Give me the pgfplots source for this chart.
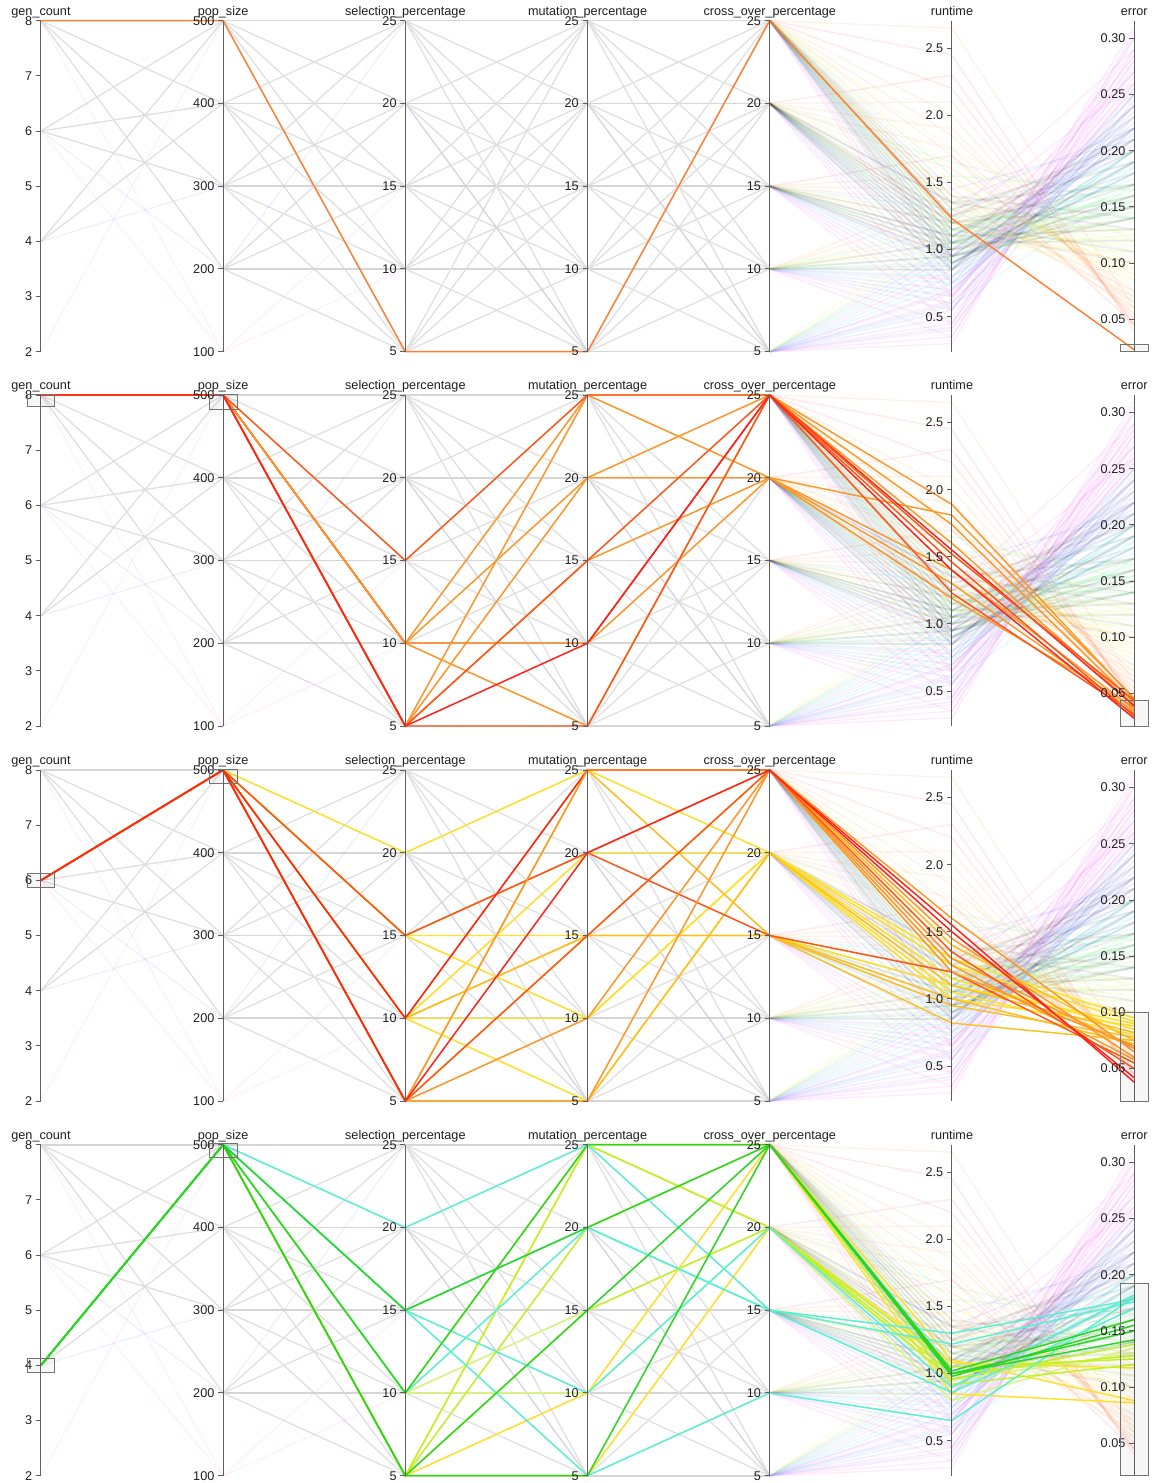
\documentclass[border=0pt]{standalone}
\usepackage{pgfplots}
\usepackage{pgfplotstable}
\pgfplotsset{compat=1.18}
\usepackage{fontspec}
\setmainfont{Liberation Sans}

\definecolor{cpk}{RGB}{245,110,245}
\definecolor{cbl}{RGB}{120,130,255}
\definecolor{ccy}{RGB}{70,215,250}
\definecolor{cgr}{RGB}{90,240,110}
\definecolor{cyg}{RGB}{200,245,70}
\definecolor{cye}{RGB}{255,225,70}
\definecolor{cor}{RGB}{255,160,80}
\definecolor{crd}{RGB}{255,90,90}
\definecolor{gridgray}{RGB}{224,224,224}
\definecolor{gridgrayd}{RGB}{214,214,214}
\definecolor{axgray}{RGB}{95,95,95}
\definecolor{hOne}{RGB}{255,128,50}
\definecolor{hRed}{RGB}{255,35,25}
\definecolor{hOrRed}{RGB}{255,85,25}
\definecolor{hOr}{RGB}{255,150,40}
\definecolor{hYo}{RGB}{255,190,30}
\definecolor{hYe}{RGB}{255,225,40}
\definecolor{hGreen}{RGB}{40,215,30}
\definecolor{hCyan}{RGB}{90,240,210}
\definecolor{hYg}{RGB}{195,240,40}
\definecolor{hLyg}{RGB}{215,245,120}

\tikzset{brush/.style={draw=black!55, line width=0.75pt, fill=black, fill opacity=0.03}}

\pgfplotsset{
  sgy/.style={color=gridgray, line width=1pt, mark=none},
  sgh/.style={color=gridgrayd, line width=1.2pt, mark=none},
  spk/.style={color=cpk, opacity=0.12, line width=0.8pt, mark=none},
  sbl/.style={color=cbl, opacity=0.14, line width=0.8pt, mark=none},
  rline/.style={opacity=0.13, line width=1.1pt, mark=none},
  rpk/.style={rline, color=cpk},
  rbl/.style={rline, color=cbl},
  rcy/.style={rline, color=ccy},
  rgr/.style={rline, color=cgr},
  ryg/.style={rline, color=cyg},
  rye/.style={rline, color=cye},
  ror/.style={rline, color=cor},
  rrd/.style={rline, color=crd},
  rgy/.style={mark=none, color=black, opacity=0.065, line width=1.5pt},
  hl/.style={line width=1.1pt, mark=none},
  mainax/.style={scale only axis, width=819.9pt, height=248.25pt, anchor=south west,
    xmin=0, xmax=6, ymin=0, ymax=1, hide axis, clip=false},
  tickax/.style={scale only axis, width=0.1pt, height=248.25pt, anchor=south west,
    xmin=0, xmax=1, axis x line=none, axis y line*=left, clip=false,
    axis line style={draw=axgray, line width=0.75pt},
    ytick style={draw=axgray, line width=0.75pt},
    tick align=outside, major tick length=3.6pt, scaled y ticks=false,
    tick label style={font=\fontsize{9.5}{11}\selectfont, text=black!88},
    yticklabel style={/pgf/number format/assume math mode=true, xshift=0.6pt},
    title style={at={(0.5,1)}, anchor=base, yshift=-1.8pt, inner sep=0pt,
      font=\fontsize{9.5}{11}\selectfont, text=black!88}},
}

% ---------- discrete grid (background) ----------
\pgfplotstableread{
a b col
8 500 sgh
8 400 sgy
8 300 sgy
8 200 sgy
8 100 spk
6 500 sgy
6 400 sgy
6 300 sgy
6 200 sbl
6 100 spk
4 500 sgy
4 400 sgy
4 300 sbl
2 500 spk
}\gridGP

\pgfplotstableread{
a b col
500 25 sgh
500 20 sgy
500 15 sgy
500 10 sgy
500 5 sgy
400 25 sgy
400 20 sgh
400 15 sgy
400 10 sgy
400 5 sgy
300 25 sgy
300 20 sgy
300 15 sgh
300 10 sgy
300 5 sgy
200 25 sbl
200 20 sgy
200 15 sgy
200 10 sgh
200 5 sgy
100 15 spk
100 10 spk
}\gridPS

\pgfplotstableread{
a b col
25 25 sgh
25 20 sgy
25 15 sgy
25 10 sgy
25 5 sgy
20 25 sgy
20 20 sgh
20 15 sgy
20 10 sgy
20 5 sgy
15 25 sgy
15 20 sgy
15 15 sgh
15 10 sgy
15 5 sgy
10 25 sgy
10 20 sgy
10 15 sgy
10 10 sgh
10 5 sgy
5 25 sgy
5 20 sgy
5 15 sgy
5 10 sgy
5 5 sgh
20 5 sbl
}\gridSM

\pgfplotstableread{
a b col
25 25 sgh
25 20 sgy
25 15 sgy
25 10 sgy
25 5 sgy
20 25 sgy
20 20 sgh
20 15 sgy
20 10 sgy
20 5 sgy
15 25 sgy
15 20 sgy
15 15 sgh
15 10 sgy
15 5 sgy
10 25 sgy
10 20 sgy
10 15 sgy
10 10 sgh
10 5 sgy
5 25 sgy
5 20 sgy
5 15 sgy
5 10 sgy
5 5 sgh
20 5 sbl
}\gridMC

% ---------- continuous part (cross -> runtime -> error) ----------
\pgfplotstableread{
c r e col
5 0.30 0.305 rpk
5 0.35 0.290 rpk
5 0.40 0.275 rpk
5 0.45 0.260 rpk
5 0.50 0.250 rbl
5 0.55 0.240 rbl
5 0.60 0.230 rbl
5 0.62 0.285 rpk
5 0.70 0.220 rbl
5 0.75 0.200 rcy
5 0.80 0.190 rcy
5 0.85 0.270 rpk
5 0.90 0.180 rcy
5 0.95 0.160 rgr
5 1.00 0.215 rbl
5 1.05 0.140 rgr
5 1.10 0.120 ryg
5 0.42 0.245 rbl
5 0.58 0.170 rcy
5 0.68 0.255 rpk
5 1.20 0.100 rye
10 0.35 0.300 rpk
10 0.45 0.280 rpk
10 0.55 0.265 rpk
10 0.60 0.235 rbl
10 0.70 0.220 rbl
10 0.75 0.200 rcy
10 0.80 0.185 rcy
10 0.85 0.170 rgr
10 0.90 0.155 rgr
10 0.95 0.140 rgr
10 1.00 0.125 ryg
10 1.05 0.110 ryg
10 1.10 0.095 rye
10 1.20 0.085 rye
10 1.30 0.070 ror
10 0.65 0.250 rbl
10 0.78 0.290 rpk
10 0.88 0.210 rbl
10 1.15 0.160 rgr
10 1.40 0.060 ror
15 0.45 0.310 rpk
15 0.55 0.280 rpk
15 0.65 0.255 rpk
15 0.72 0.240 rbl
15 0.80 0.225 rbl
15 0.85 0.200 rcy
15 0.92 0.180 rcy
15 1.00 0.165 rgr
15 1.05 0.150 rgr
15 1.10 0.130 ryg
15 1.15 0.115 ryg
15 1.20 0.100 rye
15 1.25 0.090 rye
15 1.35 0.075 ror
15 1.45 0.065 ror
15 1.55 0.055 ror
15 1.70 0.045 rrd
15 0.95 0.270 rpk
15 1.30 0.190 rcy
15 1.10 0.205 rbl
20 0.55 0.300 rpk
20 0.65 0.270 rpk
20 0.75 0.250 rbl
20 0.85 0.230 rbl
20 0.95 0.210 rbl
20 1.00 0.190 rcy
20 1.05 0.175 rcy
20 1.10 0.160 rgr
20 1.15 0.145 rgr
20 1.20 0.130 ryg
20 1.25 0.120 ryg
20 1.30 0.105 ryg
20 1.40 0.095 rye
20 1.50 0.085 rye
20 1.60 0.075 ror
20 1.75 0.065 ror
20 1.90 0.055 ror
20 2.10 0.050 ror
20 2.30 0.045 rrd
20 1.35 0.220 rbl
20 1.20 0.260 rpk
20 1.65 0.150 rgr
25 0.65 0.285 rpk
25 0.75 0.260 rpk
25 0.85 0.240 rbl
25 0.95 0.220 rbl
25 1.05 0.200 rcy
25 1.10 0.185 rcy
25 1.15 0.170 rgr
25 1.20 0.155 rgr
25 1.25 0.140 rgr
25 1.30 0.125 ryg
25 1.35 0.110 ryg
25 1.40 0.100 rye
25 1.50 0.090 rye
25 1.60 0.080 rye
25 1.70 0.070 ror
25 1.85 0.060 ror
25 2.00 0.050 ror
25 2.20 0.045 rrd
25 2.45 0.040 rrd
25 2.65 0.060 ror
25 1.45 0.210 rbl
25 1.55 0.165 rgr
25 1.75 0.120 ryg
25 1.25 0.290 rpk
25 1.00 0.150 rgy
25 1.10 0.130 rgy
25 1.20 0.170 rgy
25 1.30 0.200 rgy
25 1.40 0.140 rgy
20 0.95 0.160 rgy
20 1.05 0.120 rgy
20 1.15 0.180 rgy
20 1.25 0.210 rgy
20 1.35 0.130 rgy
15 0.90 0.190 rgy
15 1.00 0.140 rgy
15 1.10 0.220 rgy
15 1.20 0.110 rgy
10 0.85 0.200 rgy
10 0.95 0.150 rgy
10 1.05 0.230 rgy
25 0.90 0.180 rgy
20 0.85 0.240 rgy
25 1.15 0.100 rgy
25 1.05 0.160 rgy
25 1.25 0.190 rgy
25 1.35 0.170 rgy
20 1.10 0.200 rgy
20 1.20 0.150 rgy
20 1.00 0.220 rgy
15 1.05 0.170 rgy
15 0.95 0.210 rgy
25 0.95 0.140 rgy
20 0.90 0.190 rgy
}\bgR

% ---------- highlighted (brushed) lines ----------
\pgfplotstableread{
g p s m c r e col
8 500 5 5 25 1.23 0.023 hOne
}\hlA

\pgfplotstableread{
g p s m c r e col
8 500 10 25 20 1.81 0.046 hOr
8 500 10 20 25 1.74 0.042 hOr
8 500 10 5 25 1.60 0.040 hOr
8 500 5 20 20 1.30 0.034 hOr
8 500 5 25 25 1.89 0.045 hOr
8 500 5 15 20 1.19 0.038 hOr
8 500 10 10 25 1.55 0.039 hRed
8 500 10 10 20 1.40 0.036 hOr
8 500 15 25 25 1.52 0.044 hOrRed
8 500 5 5 25 1.23 0.032 hOrRed
8 500 5 15 25 1.46 0.030 hOrRed
8 500 5 10 25 1.40 0.028 hRed
}\hlB

\pgfplotstableread{
g p s m c r e col
6 500 20 25 20 1.30 0.095 hYe
6 500 15 15 15 1.10 0.090 hYe
6 500 15 10 20 1.15 0.085 hYe
6 500 10 20 20 1.05 0.080 hYe
6 500 10 10 20 1.00 0.088 hYe
6 500 10 5 20 1.25 0.092 hYe
6 500 10 15 25 1.40 0.075 hYo
6 500 5 25 15 0.95 0.078 hYo
6 500 5 5 20 1.10 0.082 hYo
6 500 10 15 15 0.82 0.075 hYo
6 500 5 15 15 1.00 0.072 hYo
6 500 15 20 25 1.25 0.058 hOr
6 500 10 25 25 1.30 0.068 hOr
6 500 15 20 15 1.20 0.055 hOrRed
6 500 10 25 25 1.55 0.038 hRed
6 500 5 25 25 1.45 0.060 hOr
6 500 5 10 25 1.60 0.065 hOr
6 500 5 5 25 1.20 0.070 hOr
6 500 5 15 25 1.35 0.050 hOrRed
6 500 5 20 25 1.50 0.042 hRed
}\hlC

\pgfplotstableread{
g p s m c r e col
4 500 10 15 20 0.80 0.135 hLyg
4 500 10 10 20 0.95 0.130 hLyg
4 500 5 25 25 1.10 0.088 hYe
4 500 5 10 25 0.85 0.086 hYe
4 500 5 5 20 1.08 0.117 hYe
4 500 5 25 20 1.05 0.125 hYg
4 500 5 20 25 0.92 0.120 hYg
4 500 10 25 20 1.00 0.128 hYg
4 500 5 15 20 0.96 0.138 hYg
4 500 20 25 15 1.30 0.178 hCyan
4 500 15 10 20 0.90 0.182 hCyan
4 500 15 5 10 0.65 0.180 hCyan
4 500 10 20 15 1.22 0.176 hCyan
4 500 15 20 15 0.86 0.170 hCyan
4 500 10 25 25 0.98 0.155 hGreen
4 500 15 20 25 1.02 0.160 hGreen
4 500 5 15 25 1.00 0.142 hGreen
4 500 5 5 25 1.00 0.150 hGreen
}\hlD

% ---------- drawing macros ----------
\newcommand\drawseg[6]{%
  \pgfplotstablegetrowsof{#1}\pgfmathtruncatemacro\NR{\pgfplotsretval-1}%
  \pgfmathtruncatemacro\xb{#2+1}%
  \pgfplotsforeachungrouped \rr in {0,...,\NR}{%
    \pgfplotstablegetelem{\rr}{a}\of#1\pgfmathsetmacro\ya{(\pgfplotsretval-#3)/#4}%
    \pgfplotstablegetelem{\rr}{b}\of#1\pgfmathsetmacro\yb{(\pgfplotsretval-#5)/#6}%
    \pgfplotstablegetelem{\rr}{col}\of#1\let\lc\pgfplotsretval
    \edef\temp{\noexpand\addplot[\lc] coordinates {(#2,\ya)(\xb,\yb)};}\temp
  }}

\newcommand\drawbg{%
  \pgfplotstablegetrowsof{\bgR}\pgfmathtruncatemacro\NR{\pgfplotsretval-1}%
  \pgfplotsforeachungrouped \rr in {0,...,\NR}{%
    \pgfplotstablegetelem{\rr}{c}\of\bgR\pgfmathsetmacro\ya{(\pgfplotsretval-5)/20}%
    \pgfplotstablegetelem{\rr}{r}\of\bgR\pgfmathsetmacro\yb{0.1057+0.4055*(\pgfplotsretval-0.5)}%
    \pgfplotstablegetelem{\rr}{e}\of\bgR\pgfmathsetmacro\yc{0.098+3.395*(\pgfplotsretval-0.05)}%
    \pgfplotstablegetelem{\rr}{col}\of\bgR\let\lc\pgfplotsretval
    \edef\temp{\noexpand\addplot[\lc] coordinates {(4,\ya)(5,\yb)(6,\yc)};}\temp
  }}

\newcommand\drawhl[1]{%
  \pgfplotstablegetrowsof{#1}\pgfmathtruncatemacro\NR{\pgfplotsretval-1}%
  \pgfplotsforeachungrouped \rr in {0,...,\NR}{%
    \pgfplotstablegetelem{\rr}{g}\of#1\pgfmathsetmacro\ya{(\pgfplotsretval-2)/6}%
    \pgfplotstablegetelem{\rr}{p}\of#1\pgfmathsetmacro\yb{(\pgfplotsretval-100)/400}%
    \pgfplotstablegetelem{\rr}{s}\of#1\pgfmathsetmacro\yc{(\pgfplotsretval-5)/20}%
    \pgfplotstablegetelem{\rr}{m}\of#1\pgfmathsetmacro\yd{(\pgfplotsretval-5)/20}%
    \pgfplotstablegetelem{\rr}{c}\of#1\pgfmathsetmacro\yee{(\pgfplotsretval-5)/20}%
    \pgfplotstablegetelem{\rr}{r}\of#1\pgfmathsetmacro\yf{0.1057+0.4055*(\pgfplotsretval-0.5)}%
    \pgfplotstablegetelem{\rr}{e}\of#1\pgfmathsetmacro\ygg{0.098+3.395*(\pgfplotsretval-0.05)}%
    \pgfplotstablegetelem{\rr}{col}\of#1\let\lc\pgfplotsretval
    \edef\temp{\noexpand\addplot[hl,color=\lc] coordinates {(0,\ya)(1,\yb)(2,\yc)(3,\yd)(4,\yee)(5,\yf)(6,\ygg)};}\temp
  }}

\newcommand\panelmain[2]{%
  \begin{axis}[mainax, at={(30.675pt,#1)}]
    \drawseg{\gridGP}{0}{2}{6}{100}{400}
    \drawseg{\gridPS}{1}{100}{400}{5}{20}
    \drawseg{\gridSM}{2}{5}{20}{5}{20}
    \drawseg{\gridMC}{3}{5}{20}{5}{20}
    \drawbg
    \drawhl{#2}
  \end{axis}}

\newcommand\tickaxes[4]{%
 \begin{axis}[tickax, at={(30.675pt,#1)}, ymin=2, ymax=8, ytick={2,3,4,5,6,7,8}, title={gen\_count}]#2\end{axis}
 \begin{axis}[tickax, at={(167.325pt,#1)}, ymin=100, ymax=500, ytick={100,200,300,400,500}, title={pop\_size}]#3\end{axis}
 \begin{axis}[tickax, at={(303.975pt,#1)}, ymin=5, ymax=25, ytick={5,10,15,20,25}, title={selection\_percentage}]\end{axis}
 \begin{axis}[tickax, at={(440.625pt,#1)}, ymin=5, ymax=25, ytick={5,10,15,20,25}, title={mutation\_percentage}]\end{axis}
 \begin{axis}[tickax, at={(577.275pt,#1)}, ymin=5, ymax=25, ytick={5,10,15,20,25}, title={cross\_over\_percentage}]\end{axis}
 \begin{axis}[tickax, at={(713.925pt,#1)}, ymin=0.23933, ymax=2.7054, ytick={0.5,1.0,1.5,2.0,2.5},
   yticklabel style={/pgf/number format/.cd, fixed, fixed zerofill, precision=1}, title={runtime}]\end{axis}
 \begin{axis}[tickax, at={(850.575pt,#1)}, ymin=0.02113, ymax=0.31568, ytick={0.05,0.10,0.15,0.20,0.25,0.30},
   yticklabel style={/pgf/number format/.cd, fixed, fixed zerofill, precision=2}, title={error}]#4\end{axis}
}

\begin{document}
\begin{tikzpicture}
\useasboundingbox (0pt,0pt) rectangle (867.75pt,-1112.25pt);
% panel 1
\panelmain{-263.775pt}{\hlA}
\tickaxes{-263.775pt}{}{}{\draw[brush] ([xshift=-9.9pt]axis cs:0,0.02113) rectangle ([xshift=10.6pt]axis cs:0,0.0271);}
% panel 2
\panelmain{-544.5pt}{\hlB}
\tickaxes{-544.5pt}%
 {\draw[brush] ([xshift=-10pt]axis cs:0,7.8) rectangle ([xshift=10.5pt]axis cs:0,8.015);}%
 {\draw[brush] ([xshift=-10pt]axis cs:0,483) rectangle ([xshift=10.5pt]axis cs:0,501);}%
 {\draw[brush] ([xshift=-9.9pt]axis cs:0,0.02113) rectangle ([xshift=10.6pt]axis cs:0,0.0436);}
% panel 3
\panelmain{-825.75pt}{\hlC}
\tickaxes{-825.75pt}%
 {\draw[brush] ([xshift=-10pt]axis cs:0,5.87) rectangle ([xshift=10.5pt]axis cs:0,6.13);}%
 {\draw[brush] ([xshift=-10pt]axis cs:0,484) rectangle ([xshift=10.5pt]axis cs:0,501);}%
 {\draw[brush] ([xshift=-9.9pt]axis cs:0,0.02113) rectangle ([xshift=10.6pt]axis cs:0,0.1003);}
% panel 4
\panelmain{-1106.775pt}{\hlD}
\tickaxes{-1106.775pt}%
 {\draw[brush] ([xshift=-10pt]axis cs:0,3.88) rectangle ([xshift=10.5pt]axis cs:0,4.12);}%
 {\draw[brush] ([xshift=-10pt]axis cs:0,485) rectangle ([xshift=10.5pt]axis cs:0,501);}%
 {\draw[brush] ([xshift=-9.9pt]axis cs:0,0.02113) rectangle ([xshift=10.6pt]axis cs:0,0.1926);}
\end{tikzpicture}
\end{document}
